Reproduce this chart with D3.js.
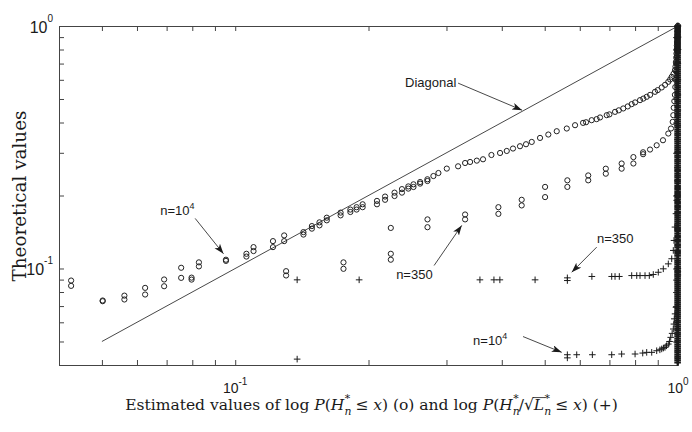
<!DOCTYPE html>
<html>
<head>
<meta charset="utf-8">
<script src="https://cdn.jsdelivr.net/npm/d3@7"></script>
<style>
body { margin: 0; background: #fff; }
</style>
</head>
<body>
<div id="chart"></div>
<script>
// log-log plot: estimated values (x) against theoretical values (y)
// values

const tickValues = [0.04, 0.05, 0.06, 0.07, 0.08, 0.09, 0.1, 0.2, 0.3, 0.4, 0.5, 0.6, 0.7, 0.8, 0.9, 1];
const xTickLabels = [{v: 0.1, base: "10", exp: "-1"}, {v: 1, base: "10", exp: "0"}];
const yTickLabels = [{v: 0.1, base: "10", exp: "-1"}, {v: 1, base: "10", exp: "0"}];

const diagonal = [[0.05, 0.05], [1, 1]];

// circles, n=10^4
const circles1e4 = [
    [0.0426, 0.0892], [0.0426, 0.0848], [0.0502, 0.0738], [0.0502, 0.0733],
    [0.0562, 0.0773], [0.0562, 0.0745], [0.0626, 0.0832], [0.0626, 0.0781],
    [0.0691, 0.0901], [0.0691, 0.0845], [0.0755, 0.1007], [0.0755, 0.0915],
    [0.0797, 0.0917], [0.0797, 0.0900], [0.0828, 0.106], [0.0828, 0.102],
    [0.0953, 0.1087], [0.0953, 0.1075], [0.106, 0.115], [0.106, 0.112],
    [0.110, 0.1225], [0.110, 0.118], [0.1217, 0.1297], [0.1217, 0.1225],
    [0.129, 0.1369], [0.129, 0.1297], [0.1426, 0.1413], [0.1426, 0.138],
    [0.149, 0.1496], [0.149, 0.146], [0.155, 0.155], [0.155, 0.1506],
    [0.161, 0.162], [0.161, 0.158], [0.173, 0.170], [0.173, 0.1656],
    [0.182, 0.175], [0.182, 0.171], [0.188, 0.179], [0.188, 0.175],
    [0.194, 0.184], [0.194, 0.179], [0.209, 0.190], [0.209, 0.184],
    [0.218, 0.198], [0.218, 0.192], [0.229, 0.2055], [0.229, 0.199],
    [0.238, 0.2125], [0.238, 0.2055], [0.246, 0.218], [0.246, 0.2135],
    [0.2527, 0.2224], [0.2527, 0.2168], [0.2616, 0.2273], [0.2616, 0.2239],
    [0.2717, 0.2333], [0.2717, 0.2295], [0.2803, 0.2406], [0.2877, 0.2476],
    [0.3005, 0.2582], [0.3187, 0.2639], [0.3305, 0.2723], [0.3392, 0.275],
    [0.3513, 0.2785], [0.3628, 0.2821], [0.379, 0.2938], [0.3964, 0.2995],
    [0.4105, 0.3053], [0.424, 0.3124], [0.4397, 0.3193], [0.4537, 0.3254],
    [0.4674, 0.3326], [0.488, 0.3455], [0.5095, 0.3568], [0.5323, 0.3682],
    [0.5608, 0.3778], [0.5855, 0.3899], [0.6104, 0.3986], [0.62, 0.401],
    [0.6383, 0.4089], [0.655, 0.413], [0.6667, 0.4196], [0.6903, 0.4288],
    [0.70, 0.432], [0.7208, 0.4425], [0.735, 0.449], [0.7523, 0.4571],
    [0.77, 0.466], [0.786, 0.4762], [0.80, 0.484], [0.8208, 0.4946],
    [0.835, 0.502], [0.8498, 0.5104], [0.865, 0.52], [0.8873, 0.5352],
    [0.90, 0.544], [0.9188, 0.558], [0.935, 0.572], [0.9508, 0.5886],
    [0.96, 0.602], [0.9678, 0.6171], [0.977, 0.635], [0.9845, 0.658],
    [0.987, 0.68], [0.989, 0.71], [0.991, 0.74], [0.992, 0.77],
    [0.993, 0.80], [0.994, 0.83], [0.995, 0.86], [0.996, 0.89],
    [0.997, 0.92], [0.998, 0.95], [0.999, 0.98], [1, 1]
];

// circles, n=350
const circles350 = [
    [0.1303, 0.0975], [0.1303, 0.0936], [0.1756, 0.106], [0.1756, 0.0997],
    [0.2246, 0.147], [0.2246, 0.115], [0.2246, 0.1087], [0.2718, 0.1594],
    [0.2718, 0.148], [0.3305, 0.167], [0.3305, 0.1594], [0.393, 0.179],
    [0.393, 0.168], [0.4436, 0.192], [0.4436, 0.182], [0.501, 0.217],
    [0.501, 0.197], [0.5625, 0.231], [0.5625, 0.217], [0.627, 0.242],
    [0.627, 0.231], [0.687, 0.258], [0.687, 0.246], [0.746, 0.271],
    [0.746, 0.258], [0.793, 0.288], [0.793, 0.271], [0.834, 0.3015],
    [0.834, 0.296], [0.8647, 0.3094], [0.8951, 0.3222], [0.9249, 0.338],
    [0.9508, 0.3602], [0.9643, 0.3778], [0.9728, 0.4024], [0.9759, 0.4288],
    [0.978, 0.46], [0.981, 0.49], [0.984, 0.52], [0.986, 0.56],
    [0.988, 0.6], [0.99, 0.65], [0.992, 0.7], [0.994, 0.75],
    [0.995, 0.8], [0.996, 0.85], [0.997, 0.9], [0.998, 0.95], [0.999, 1]
];

// pluses, n=350
const plus350 = [
    [0.138, 0.0898], [0.1905, 0.0898], [0.357, 0.0898], [0.384, 0.0898],
    [0.396, 0.0898], [0.4756, 0.0898], [0.5625, 0.0915], [0.5625, 0.0892],
    [0.639, 0.0927], [0.7084, 0.0927], [0.7208, 0.0927], [0.737, 0.0927],
    [0.786, 0.0935], [0.8069, 0.0935], [0.8208, 0.0935], [0.8424, 0.0935],
    [0.8614, 0.0935], [0.8794, 0.0945], [0.9026, 0.0965], [0.9264, 0.0997],
    [0.9508, 0.1045], [0.9678, 0.1097], [0.9759, 0.1187], [0.9794, 0.1305],
    [0.9845, 0.1482], [0.9896, 0.1683], [0.9933, 0.191], [0.999, 0.094],
    [0.999, 0.097], [0.999, 0.1], [0.996, 0.2], [0.997, 0.23],
    [0.997, 0.26], [0.998, 0.3], [0.998, 0.34], [0.998, 0.39],
    [0.999, 0.45], [0.999, 0.52], [0.999, 0.6], [0.999, 0.7],
    [1, 0.8], [1, 0.9], [1, 1]
];

// pluses, n=10^4
const plus1e4 = [
    [0.138, 0.0423], [0.5625, 0.0441], [0.5625, 0.0428], [0.5906, 0.0441],
    [0.6406, 0.0441], [0.7084, 0.0441], [0.746, 0.0444], [0.7999, 0.0444],
    [0.8324, 0.0448], [0.8498, 0.0451], [0.8722, 0.0451], [0.8951, 0.0458],
    [0.91, 0.0462], [0.9188, 0.0466], [0.927, 0.047], [0.9347, 0.0473],
    [0.942, 0.048], [0.9508, 0.0488], [0.957, 0.050], [0.9628, 0.052],
    [0.97, 0.054], [0.9759, 0.0563], [0.979, 0.059], [0.9809, 0.062],
    [0.985, 0.065], [0.9896, 0.0692]
];
// pluses of n=10^4 piled up at x close to 1 (the solid bar on the right)
const plus1e4EdgeX = 0.998;
const plus1e4EdgeY = [
    0.0410, 0.0418, 0.0426, 0.0434, 0.0442, 0.0451, 0.0459, 0.0468, 0.0477, 0.0486,
    0.0496, 0.0505, 0.0515, 0.0525, 0.0535, 0.0545, 0.0556, 0.0566, 0.0577, 0.0588,
    0.0600, 0.0611, 0.0623, 0.0635, 0.0647, 0.0660, 0.0672, 0.0685, 0.0698, 0.0712,
    0.0725, 0.0739, 0.0754, 0.0768, 0.0783, 0.0798, 0.0813, 0.0829, 0.0845, 0.0861,
    0.0878, 0.0895, 0.0912, 0.0929, 0.0947, 0.0965, 0.0984, 0.1003, 0.102, 0.104,
    0.106, 0.108, 0.110, 0.113, 0.115, 0.117, 0.119, 0.122, 0.124, 0.126,
    0.129, 0.131, 0.134, 0.136, 0.139, 0.142, 0.144, 0.147, 0.150, 0.153,
    0.156, 0.159, 0.162, 0.165, 0.168, 0.171, 0.175, 0.178, 0.181, 0.185,
    0.188, 0.192, 0.196, 0.199, 0.203, 0.207, 0.211, 0.215, 0.219, 0.224,
    0.228, 0.232, 0.237, 0.241, 0.246, 0.251, 0.255, 0.260, 0.265, 0.271,
    0.276, 0.281, 0.287, 0.292, 0.298, 0.303, 0.309, 0.315, 0.321, 0.328,
    0.334, 0.340, 0.347, 0.354, 0.360, 0.367, 0.374, 0.382, 0.389, 0.396,
    0.404, 0.412, 0.420, 0.428, 0.436, 0.444, 0.453, 0.462, 0.470, 0.480,
    0.489, 0.498, 0.508, 0.518, 0.528, 0.538, 0.548, 0.559, 0.569, 0.580,
    0.592, 0.603, 0.615, 0.626, 0.639, 0.651, 0.663, 0.676, 0.689, 0.703,
    0.716, 0.730, 0.744, 0.758, 0.773, 0.788, 0.803, 0.819, 0.834, 0.850,
    0.867, 0.884, 0.901, 0.918, 0.936, 0.954, 0.972, 0.991, 1.000
];

// annotations: label position and arrow in data coordinates
const notes = [
    {text: "Diagonal", sup: "", at: [0.2419, 0.5598], from: [0.3187, 0.5813], to: [0.4445, 0.4496]},
    {text: "n=10", sup: "4", at: [0.0677, 0.1656], from: [0.0812, 0.1609], to: [0.0941, 0.115]},
    {text: "n=350", sup: "", at: [0.2309, 0.0909], from: [0.2813, 0.1029], to: [0.3248, 0.1506]},
    {text: "n=350", sup: "", at: [0.6563, 0.128], from: [0.6552, 0.1225], to: [0.5754, 0.0965]},
    {text: "n=10", sup: "4", at: [0.3445, 0.0485], from: [0.4467, 0.0524], to: [0.5463, 0.0451]}
];

const W = 692, H = 432;
const margin = {top: 26, right: 14, bottom: 67, left: 59};
const width = W - margin.left - margin.right,
      height = H - margin.top - margin.bottom;

const sansFont = "'Liberation Sans', Arial, sans-serif";
const serifFont = "'DejaVu Serif', serif";
const ink = "#1a1a1a";

let svg = d3.select("#chart").append("svg")
    .attr("width", W)
    .attr("height", H);

svg.append("defs").append("marker")
    .attr("id", "arrowhead")
    .attr("markerUnits", "userSpaceOnUse")
    .attr("markerWidth", 11)
    .attr("markerHeight", 8)
    .attr("refX", 10)
    .attr("refY", 3.5)
    .attr("orient", "auto")
  .append("path")
    .attr("d", "M0,0L10,3.5L0,7L2.5,3.5Z")
    .attr("fill", ink);

let g = svg.append("g")
    .attr("transform", "translate(" + margin.left + "," + margin.top + ")");

let x = d3.scaleLog().domain([0.04, 1]).range([0, width]);
let y = d3.scaleLog().domain([0.04, 1]).range([height, 0]);

// box with inward ticks on all four sides
function styleAxis(sel) {
    sel.selectAll("path").attr("stroke", "#444").attr("stroke-width", 1);
    sel.selectAll("line").attr("stroke", "#444").attr("stroke-width", 1);
    sel.selectAll("text").remove();
}
g.append("g").attr("transform", "translate(0," + height + ")")
    .call(d3.axisBottom(x).tickValues(tickValues).tickSizeInner(-5).tickSizeOuter(0)).call(styleAxis);
g.append("g")
    .call(d3.axisTop(x).tickValues(tickValues).tickSizeInner(-5).tickSizeOuter(0)).call(styleAxis);
g.append("g")
    .call(d3.axisLeft(y).tickValues(tickValues).tickSizeInner(-5).tickSizeOuter(0)).call(styleAxis);
g.append("g").attr("transform", "translate(" + width + ",0)")
    .call(d3.axisRight(y).tickValues(tickValues).tickSizeInner(-5).tickSizeOuter(0)).call(styleAxis);

// tick labels 10^k
xTickLabels.forEach(function(d) {
    let t = g.append("text")
        .attr("x", x(d.v))
        .attr("y", height + 28)
        .attr("text-anchor", "middle")
        .attr("font-family", sansFont)
        .attr("font-size", 14)
        .attr("fill", ink)
        .text(d.base);
    t.append("tspan").attr("font-size", 10).attr("dy", -8).text(d.exp);
});
yTickLabels.forEach(function(d) {
    let t = g.append("text")
        .attr("x", -6)
        .attr("y", y(d.v) + 7)
        .attr("text-anchor", "end")
        .attr("font-family", sansFont)
        .attr("font-size", 16)
        .attr("fill", ink)
        .text(d.base);
    t.append("tspan").attr("font-size", 10).attr("dy", -11).text(d.exp);
});

// diagonal
g.append("path")
    .datum(diagonal)
    .attr("d", d3.line().x(function(d) { return x(d[0]); }).y(function(d) { return y(d[1]); }))
    .attr("fill", "none")
    .attr("stroke", "#333")
    .attr("stroke-width", 0.9);

// circle markers
[circles1e4, circles350].forEach(function(series) {
    g.append("g").selectAll("circle")
        .data(series)
      .enter().append("circle")
        .attr("cx", function(d) { return x(d[0]); })
        .attr("cy", function(d) { return y(d[1]); })
        .attr("r", 2.6)
        .attr("fill", "none")
        .attr("stroke", "#222")
        .attr("stroke-width", 1);
});

// plus markers; the pile at x close to 1 overlaps so densely it reads as a solid bar
function drawPluses(series, sw) {
    g.append("g").selectAll("path")
        .data(series)
      .enter().append("path")
        .attr("transform", function(d) { return "translate(" + x(d[0]) + "," + y(d[1]) + ")"; })
        .attr("d", "M-3.3,0H3.3M0,-3.3V3.3")
        .attr("fill", "none")
        .attr("stroke", "#1a1a1a")
        .attr("stroke-width", sw);
}
drawPluses(plus350, 1);
drawPluses(plus1e4, 1);
drawPluses(plus1e4EdgeY.map(function(v) { return [plus1e4EdgeX, v]; }), 2);

// annotations with arrows
notes.forEach(function(d) {
    let t = g.append("text")
        .attr("x", x(d.at[0]))
        .attr("y", y(d.at[1]))
        .attr("font-family", sansFont)
        .attr("font-size", 13)
        .attr("fill", ink)
        .text(d.text);
    if (d.sup) {
        t.append("tspan").attr("font-size", 9).attr("dy", -6).text(d.sup);
    }
    g.append("line")
        .attr("x1", x(d.from[0])).attr("y1", y(d.from[1]))
        .attr("x2", x(d.to[0])).attr("y2", y(d.to[1]))
        .attr("stroke", "#333")
        .attr("stroke-width", 0.9)
        .attr("marker-end", "url(#arrowhead)");
});

// math-ish label built from tspans, sizes in em so it can be rescaled
function mathText(sel, parts) {
    let cur = 0;
    parts.forEach(function(p) {
        let f = (p.sub || p.sup) ? 0.7 : 1;
        let target = p.sub ? 0.3 : (p.sup ? -0.5 : 0);
        let ts = sel.append("tspan").text(p.t);
        if (f !== 1) ts.style("font-size", "0.7em");
        if (target !== cur) ts.attr("dy", ((target - cur) / f).toFixed(3) + "em");
        if (p.back) ts.attr("dx", (-p.back / f).toFixed(3) + "em");
        if (p.i) ts.style("font-style", "italic");
        cur = target;
    });
}
function fitWidth(sel, target) {
    let fs = parseFloat(sel.attr("font-size"));
    let w = sel.node().getBBox().width;
    sel.attr("font-size", fs * target / w);
}

let xlab = svg.append("text")
    .attr("x", 371.5)
    .attr("y", 410)
    .attr("text-anchor", "middle")
    .attr("font-family", serifFont)
    .attr("font-size", 16)
    .attr("fill", ink);
mathText(xlab, [
    {t: "Estimated values of log "}, {t: "P", i: true}, {t: "("}, {t: "H", i: true},
    {t: "n", i: true, sub: true}, {t: "*", sup: true, back: 0.42}, {t: " \u2264 "}, {t: "x", i: true},
    {t: ") (o) and log "}, {t: "P", i: true}, {t: "("}, {t: "H", i: true},
    {t: "n", i: true, sub: true}, {t: "*", sup: true, back: 0.42}, {t: "/\u221A"}, {t: "L", i: true},
    {t: "n", i: true, sub: true}, {t: "*", sup: true, back: 0.42}, {t: " \u2264 "}, {t: "x", i: true},
    {t: ") (+)"}
]);
fitWidth(xlab, 493);

// overline over L of the square root
let xnode = xlab.node(),
    li = xnode.textContent.indexOf("L"),
    fsx = parseFloat(xlab.attr("font-size"));
let p0 = xnode.getEndPositionOfChar(li - 1),
    p1 = xnode.getEndPositionOfChar(li);
svg.append("line")
    .attr("x1", p0.x - 1).attr("x2", p1.x + 1)
    .attr("y1", 410 - 0.8 * fsx).attr("y2", 410 - 0.8 * fsx)
    .attr("stroke", ink)
    .attr("stroke-width", 0.8);

let ylab = svg.append("text")
    .attr("transform", "translate(26,196) rotate(-90)")
    .attr("text-anchor", "middle")
    .attr("font-family", serifFont)
    .attr("font-size", 16)
    .attr("fill", ink)
    .text("Theoretical values");
fitWidth(ylab, 171);
</script>
</body>
</html>
